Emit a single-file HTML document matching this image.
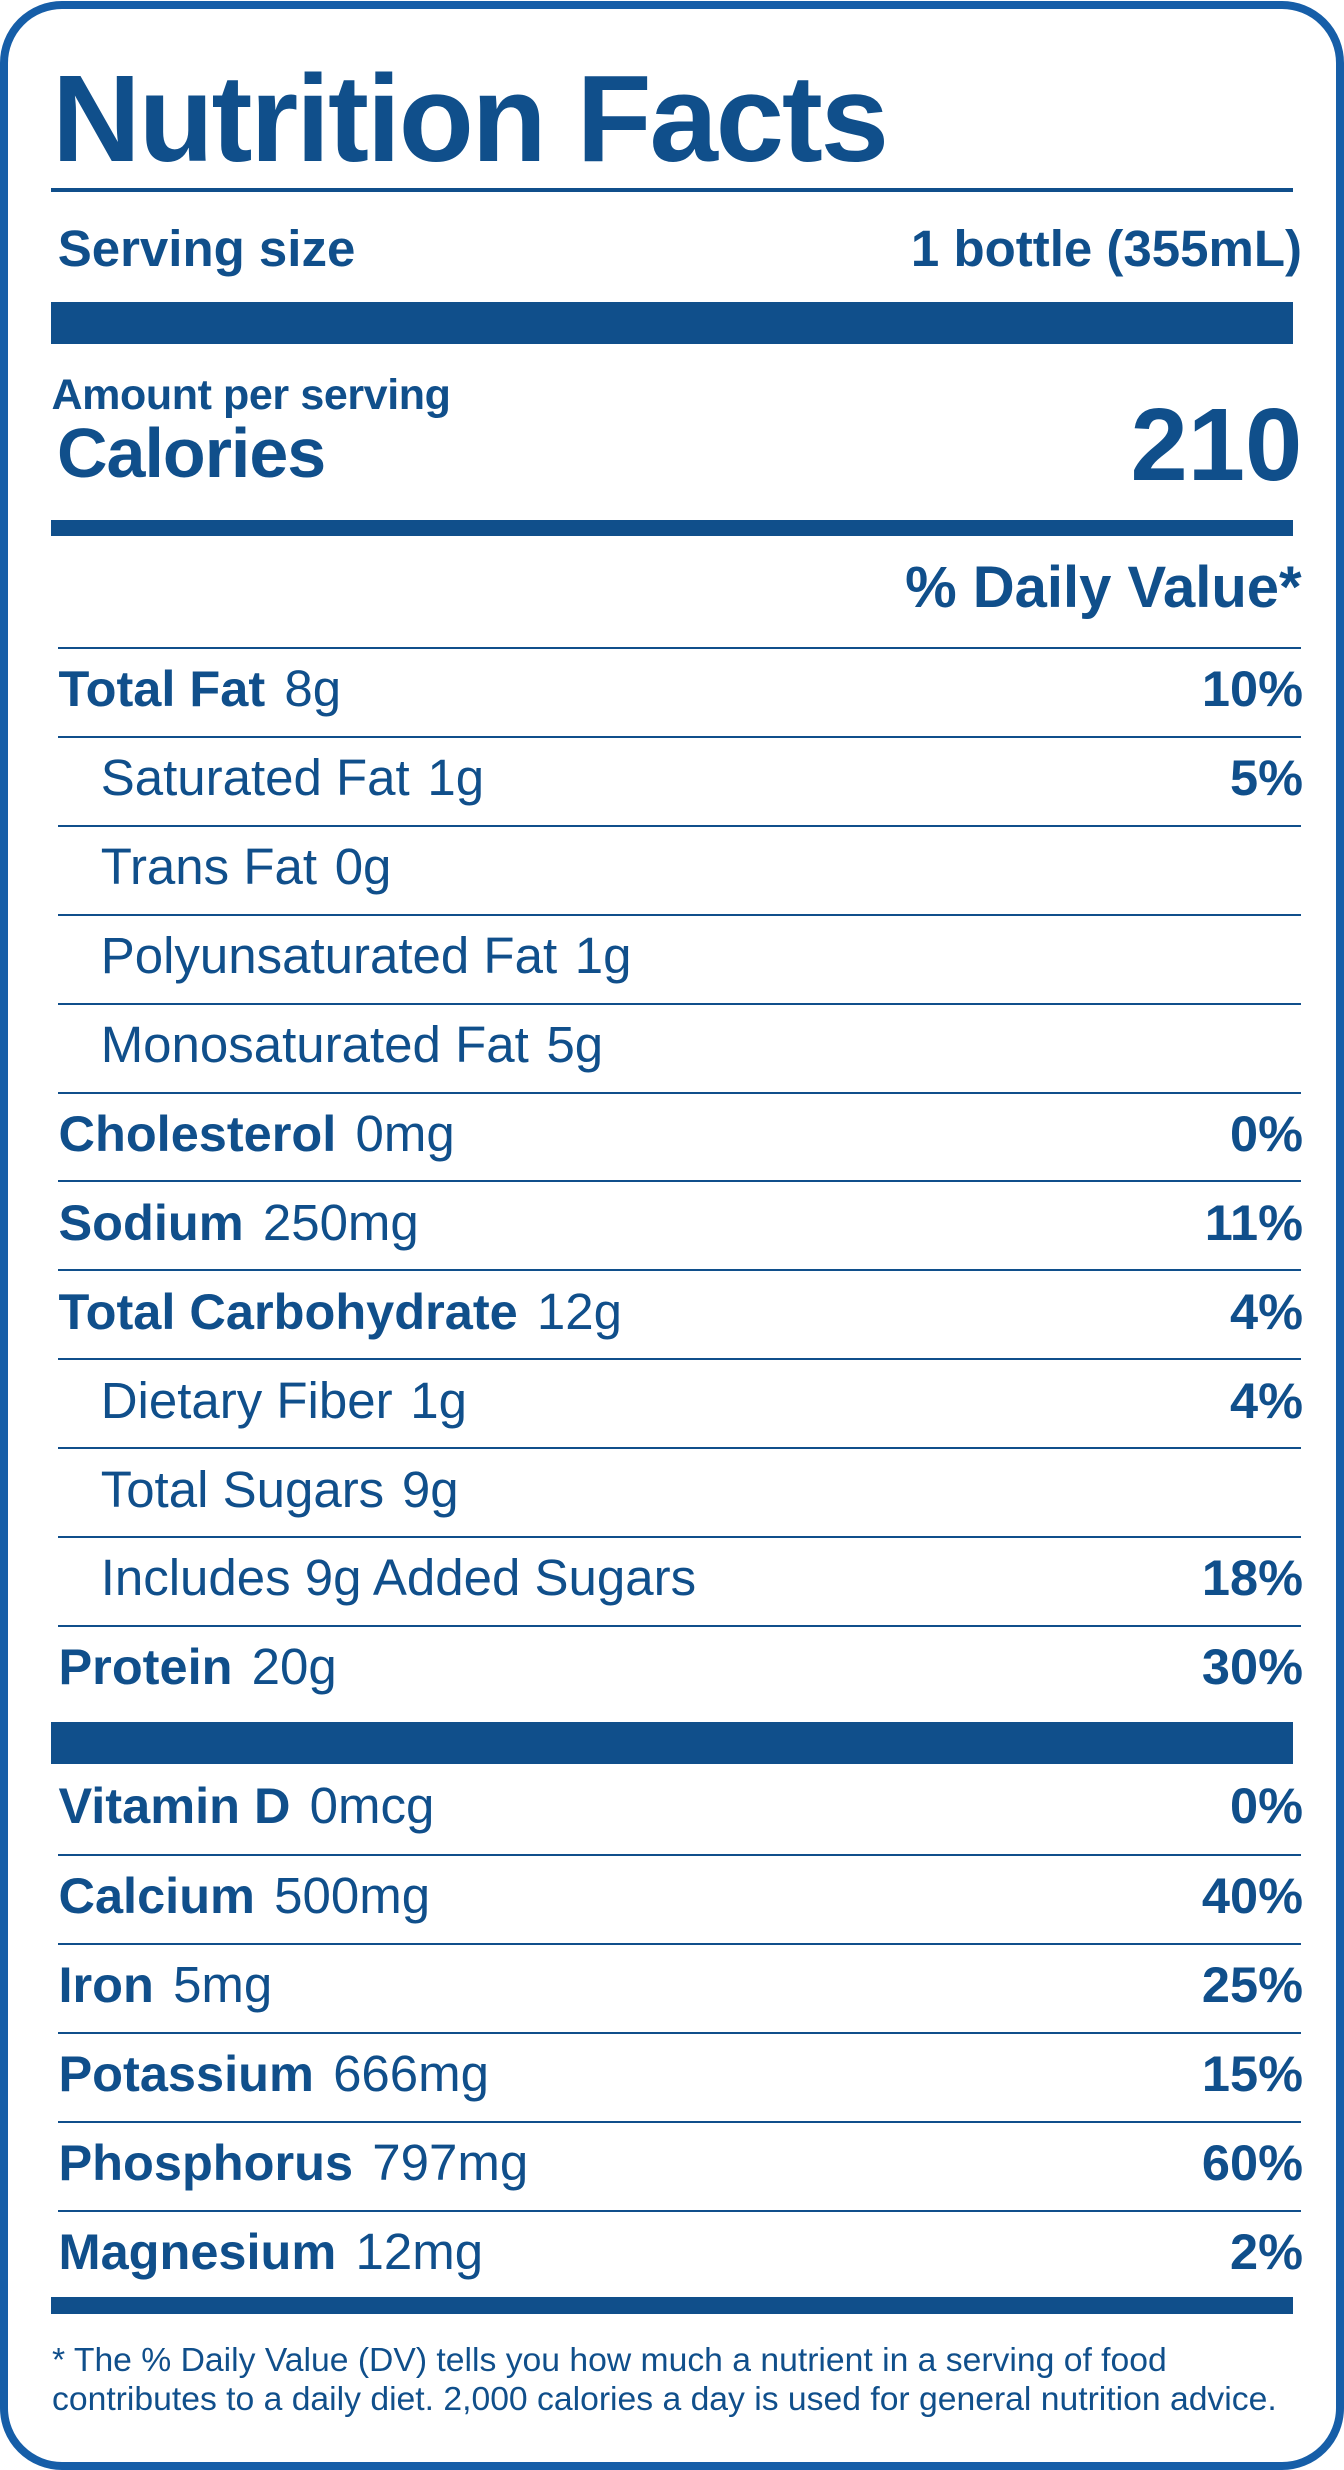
<!DOCTYPE html>
<html>
<head>
<meta charset="utf-8">
<style>
  html,body{margin:0;padding:0;background:#fff;}
  body{width:1344px;height:2470px;position:relative;overflow:hidden;
       font-family:"Liberation Sans",Arial,Helvetica,sans-serif;color:#104f8b;}
  .frame{position:absolute;left:0;top:1px;width:1344px;height:2469px;box-sizing:border-box;
         border:8px solid #165ea8;border-radius:62px;}
  .t{position:absolute;line-height:1;white-space:nowrap;}
  .bar{position:absolute;left:51px;width:1242px;background:#104f8b;}
  .ln{position:absolute;left:58px;width:1243px;height:2px;background:#104f8b;}
  .lab{position:absolute;left:58.5px;font-size:51px;line-height:50px;white-space:nowrap;}
  .lab b{font-weight:bold;font-size:50.5px;}
  .lab span{margin-left:5px;}
  .sub{position:absolute;left:100.7px;font-size:51px;line-height:50px;white-space:nowrap;}
  .sub span{margin-left:3.5px;}
  .pct{position:absolute;right:41px;font-size:50.5px;line-height:50px;font-weight:bold;white-space:nowrap;}
</style>
</head>
<body>
<div class="frame"></div>

<div class="t" style="left:52px;top:57.6px;font-size:123px;font-weight:bold;letter-spacing:-2.2px;">Nutrition Facts</div>
<div style="position:absolute;left:51px;top:188px;width:1242px;height:4px;background:#104f8b;"></div>

<div class="t" style="left:57.7px;top:223.3px;font-size:51px;font-weight:bold;">Serving size</div>
<div class="t" style="right:42px;top:223.3px;font-size:51px;font-weight:bold;">1 bottle (355mL)</div>

<div class="bar" style="top:302px;height:42px;"></div>

<div class="t" style="left:51.5px;top:374.3px;font-size:43px;font-weight:bold;letter-spacing:-0.4px;">Amount per serving</div>
<div class="t" style="left:57px;top:418px;font-size:70px;font-weight:bold;letter-spacing:-1px;">Calories</div>
<div class="t" style="right:41.7px;top:392.8px;font-size:103px;font-weight:bold;">210</div>

<div class="bar" style="top:520px;height:16px;"></div>

<div class="t" style="right:42.4px;top:558.6px;font-size:58px;font-weight:bold;">% Daily Value*</div>

<!-- row lines -->
<div class="ln" style="top:647px;"></div>
<div class="ln" style="top:735.9px;"></div>
<div class="ln" style="top:824.8px;"></div>
<div class="ln" style="top:913.7px;"></div>
<div class="ln" style="top:1002.6px;"></div>
<div class="ln" style="top:1091.5px;"></div>
<div class="ln" style="top:1180.4px;"></div>
<div class="ln" style="top:1269.3px;"></div>
<div class="ln" style="top:1358.2px;"></div>
<div class="ln" style="top:1447.1px;"></div>
<div class="ln" style="top:1536px;"></div>
<div class="ln" style="top:1624.9px;"></div>

<!-- rows -->
<div class="lab" style="top:664.4px;"><b>Total Fat</b> <span>8g</span></div>
<div class="pct" style="top:664.4px;">10%</div>

<div class="sub" style="top:753.3px;">Saturated Fat <span>1g</span></div>
<div class="pct" style="top:753.3px;">5%</div>

<div class="sub" style="top:842.2px;">Trans Fat <span>0g</span></div>

<div class="sub" style="top:931.1px;">Polyunsaturated Fat <span>1g</span></div>

<div class="sub" style="top:1020px;">Monosaturated Fat <span>5g</span></div>

<div class="lab" style="top:1108.9px;"><b>Cholesterol</b> <span>0mg</span></div>
<div class="pct" style="top:1108.9px;">0%</div>

<div class="lab" style="top:1197.8px;"><b>Sodium</b> <span>250mg</span></div>
<div class="pct" style="top:1197.8px;">11%</div>

<div class="lab" style="top:1286.7px;"><b>Total Carbohydrate</b> <span>12g</span></div>
<div class="pct" style="top:1286.7px;">4%</div>

<div class="sub" style="top:1375.6px;">Dietary Fiber <span>1g</span></div>
<div class="pct" style="top:1375.6px;">4%</div>

<div class="sub" style="top:1464.5px;">Total Sugars <span>9g</span></div>

<div class="sub" style="top:1553.4px;">Includes 9g Added Sugars</div>
<div class="pct" style="top:1553.4px;">18%</div>

<div class="lab" style="top:1642.3px;"><b>Protein</b> <span>20g</span></div>
<div class="pct" style="top:1642.3px;">30%</div>

<div class="bar" style="top:1722px;height:42px;"></div>

<div class="lab" style="top:1781.4px;"><b>Vitamin D</b> <span>0mcg</span></div>
<div class="pct" style="top:1781.4px;">0%</div>

<div class="ln" style="top:1854px;"></div>
<div class="ln" style="top:1942.9px;"></div>
<div class="ln" style="top:2031.8px;"></div>
<div class="ln" style="top:2120.7px;"></div>
<div class="ln" style="top:2209.6px;"></div>

<div class="lab" style="top:1871.4px;"><b>Calcium</b> <span>500mg</span></div>
<div class="pct" style="top:1871.4px;">40%</div>

<div class="lab" style="top:1960.3px;"><b>Iron</b> <span>5mg</span></div>
<div class="pct" style="top:1960.3px;">25%</div>

<div class="lab" style="top:2049.2px;"><b>Potassium</b> <span>666mg</span></div>
<div class="pct" style="top:2049.2px;">15%</div>

<div class="lab" style="top:2138.1px;"><b>Phosphorus</b> <span>797mg</span></div>
<div class="pct" style="top:2138.1px;">60%</div>

<div class="lab" style="top:2227px;"><b>Magnesium</b> <span>12mg</span></div>
<div class="pct" style="top:2227px;">2%</div>

<div class="bar" style="top:2297px;height:17px;"></div>

<div style="position:absolute;left:52px;top:2340.5px;font-size:33.7px;line-height:39px;white-space:nowrap;">* The % Daily Value (DV) tells you how much a nutrient in a serving of food<br>contributes to a daily diet. 2,000 calories a day is used for general nutrition advice.</div>

</body>
</html>
